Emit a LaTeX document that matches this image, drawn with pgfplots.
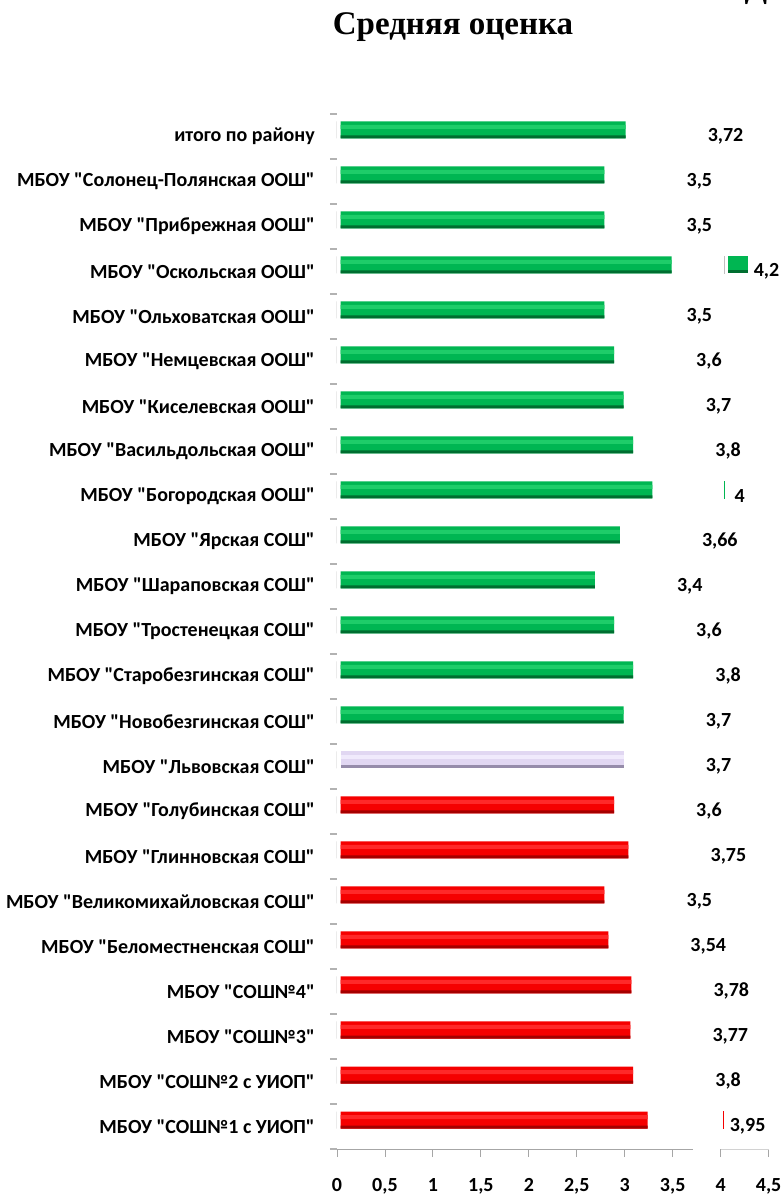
\documentclass[border=0pt]{standalone}
\usepackage{fontspec}
\setmainfont{Carlito}[Ligatures=TeXOff]
\newfontfamily\titlefont{Liberation Serif}
\usepackage{pgfplots}
\usepackage{pgfplotstable}
\pgfplotsset{compat=1.18}
\newcommand{\q}{\char34\relax}

\definecolor{gA}{RGB}{30,205,105}
\definecolor{gB}{RGB}{0,182,82}
\definecolor{gC}{RGB}{0,110,48}
\definecolor{rA}{RGB}{255,40,40}
\definecolor{rB}{RGB}{245,0,0}
\definecolor{rC}{RGB}{165,0,0}
\definecolor{lA}{RGB}{240,234,252}
\definecolor{lB}{RGB}{225,215,242}
\definecolor{lC}{RGB}{150,140,170}

\pgfplotstableread{
y bar lab
0 3.20 3,95
1 3.05 3,8
2 3.02 3,77
3 3.03 3,78
4 2.79 3,54
5 2.75 3,5
6 3.00 3,75
7 2.85 3,6
}\redtab
\pgfplotstableread{
y bar lab
8 2.95 3,7
}\lavtab
\pgfplotstableread{
y bar lab
9 2.95 3,7
10 3.05 3,8
11 2.85 3,6
12 2.65 3,4
13 2.91 3,66
14 3.25 4
15 3.05 3,8
16 2.95 3,7
17 2.85 3,6
18 2.75 3,5
19 3.45 4,2
20 2.75 3,5
21 2.75 3,5
22 2.97 3,72
}\greentab

\pgfplotsset{
  mainbar/.style={xbar, bar width=17pt, bar shift=6.5pt, xshift=3.7pt, draw=none, fill=#1},
  botbar/.style={xbar, bar width=3pt, bar shift=-0.5pt, xshift=3.7pt, draw=none, fill=#1, nodes near coords={}},
  hibar/.style={xbar, bar width=4pt, bar shift=9.5pt, xshift=3.7pt, draw=none, fill=#1, nodes near coords={}},
}

\begin{document}
\begin{tikzpicture}[x=1pt,y=1pt]
\useasboundingbox (0,0) rectangle (783,1195);
\node[font=\titlefont\bfseries\fontsize{33}{33}\selectfont, anchor=base] at (453,1160) {Средняя оценка};
\node[font=\titlefont\bfseries\fontsize{33}{33}\selectfont, anchor=base] at (756,1197) {Д};
\begin{axis}[
  at={(337pt,46pt)}, anchor=south west,
  scale only axis, width=431.6pt, height=1035pt,
  xmin=0, xmax=4.5, ymin=-0.5, ymax=22.5,
  clip=false,
  axis x line*=bottom, axis y line*=left,
  x axis line style={draw=none}, y axis line style={draw=none},
  tick align=outside,
  major tick length=8pt, minor tick length=7pt,
  xtick={0,0.5,...,4.5},
  xticklabels={0,{0,5},1,{1,5},2,{2,5},3,{3,5},4,{4,5}},
  xtick style={gray!70, line width=0.9pt},
  xticklabel style={font=\bfseries\fontsize{20}{20}\selectfont, inner sep=0pt, anchor=north, yshift=-21pt},
  ytick={0,...,22},
  minor ytick={-0.5,0.5,...,22.5},
  every major y tick/.style={draw=none},
  every minor y tick/.style={gray!60, line width=1.2pt},
  yticklabels={
    {МБОУ \q СОШ№1 с УИОП\q},
    {МБОУ \q СОШ№2 с УИОП\q},
    {МБОУ \q СОШ№3\q},
    {МБОУ \q СОШ№4\q},
    {МБОУ \q Беломестненская СОШ\q},
    {МБОУ \q Великомихайловская СОШ\q},
    {МБОУ \q Глинновская СОШ\q},
    {МБОУ \q Голубинская СОШ\q},
    {МБОУ \q Львовская СОШ\q},
    {МБОУ \q Новобезгинская СОШ\q},
    {МБОУ \q Старобезгинская СОШ\q},
    {МБОУ \q Тростенецкая СОШ\q},
    {МБОУ \q Шараповская СОШ\q},
    {МБОУ \q Ярская СОШ\q},
    {МБОУ \q Богородская ООШ\q},
    {МБОУ \q Васильдольская ООШ\q},
    {МБОУ \q Киселевская ООШ\q},
    {МБОУ \q Немцевская ООШ\q},
    {МБОУ \q Ольховатская ООШ\q},
    {МБОУ \q Оскольская ООШ\q},
    {МБОУ \q Прибрежная ООШ\q},
    {МБОУ \q Солонец-Полянская ООШ\q},
    {итого по району}},
  yticklabel style={font=\bfseries\fontsize{20}{20}\selectfont, inner sep=0pt, anchor=east, xshift=-14pt},
  /pgf/number format/assume math mode=true,
  point meta=explicit symbolic,
  nodes near coords,
  every node near coord/.append style={font=\bfseries\fontsize{20}{20}\selectfont, anchor=west, inner sep=0pt, xshift=82pt, yshift=0.5pt, text=black},
]
% axis segments at x=0 beside each bar
\addplot[xbar, bar width=17pt, bar shift=6.5pt, draw=gray!45, line width=1pt, fill=none, nodes near coords={}] coordinates {
(0,0)(0,1)(0,2)(0,3)(0,4)(0,5)(0,6)(0,7)(0,8)(0,9)(0,10)(0,11)(0,12)(0,13)(0,14)(0,15)(0,16)(0,17)(0,18)(0,19)(0,20)(0,21)(0,22)};
\addplot[mainbar=rB] table[x=bar, y=y, meta=lab] {\redtab};
\addplot[botbar=rC] table[x=bar, y=y] {\redtab};
\addplot[hibar=rA] table[x=bar, y=y] {\redtab};
\addplot[mainbar=lB] table[x=bar, y=y, meta=lab] {\lavtab};
\addplot[botbar=lC] table[x=bar, y=y] {\lavtab};
\addplot[hibar=lA] table[x=bar, y=y] {\lavtab};
\addplot[mainbar=gB] table[x=bar, y=y, meta=lab] {\greentab};
\addplot[botbar=gC] table[x=bar, y=y] {\greentab};
\addplot[hibar=gA] table[x=bar, y=y] {\greentab};
% x axis line with its break
\addplot[gray!70, line width=1pt, mark=none, nodes near coords={}] coordinates {(0,-0.5) (3.71,-0.5)};
\addplot[gray!35, line width=1pt, mark=none, nodes near coords={}] coordinates {(4.0,-0.5) (4.5,-0.5)};
% fragments beyond 4
\addplot[gB, line width=17pt, yshift=6.5pt, mark=none, nodes near coords={}] coordinates {(4.08,19) (4.29,19)};
\addplot[gC, line width=3pt, yshift=-0.5pt, mark=none, nodes near coords={}] coordinates {(4.08,19) (4.29,19)};
\addplot[gray!50, line width=1pt, yshift=6.5pt, mark=none, nodes near coords={}] coordinates {(4.035,18.81) (4.035,19.19)};
\addplot[gB, line width=1pt, yshift=6.5pt, mark=none, nodes near coords={}] coordinates {(4.035,13.81) (4.035,14.19)};
\addplot[rB, line width=1pt, yshift=6.5pt, mark=none, nodes near coords={}] coordinates {(4.03,-0.19) (4.03,0.19)};
\end{axis}
\end{tikzpicture}
\end{document}
